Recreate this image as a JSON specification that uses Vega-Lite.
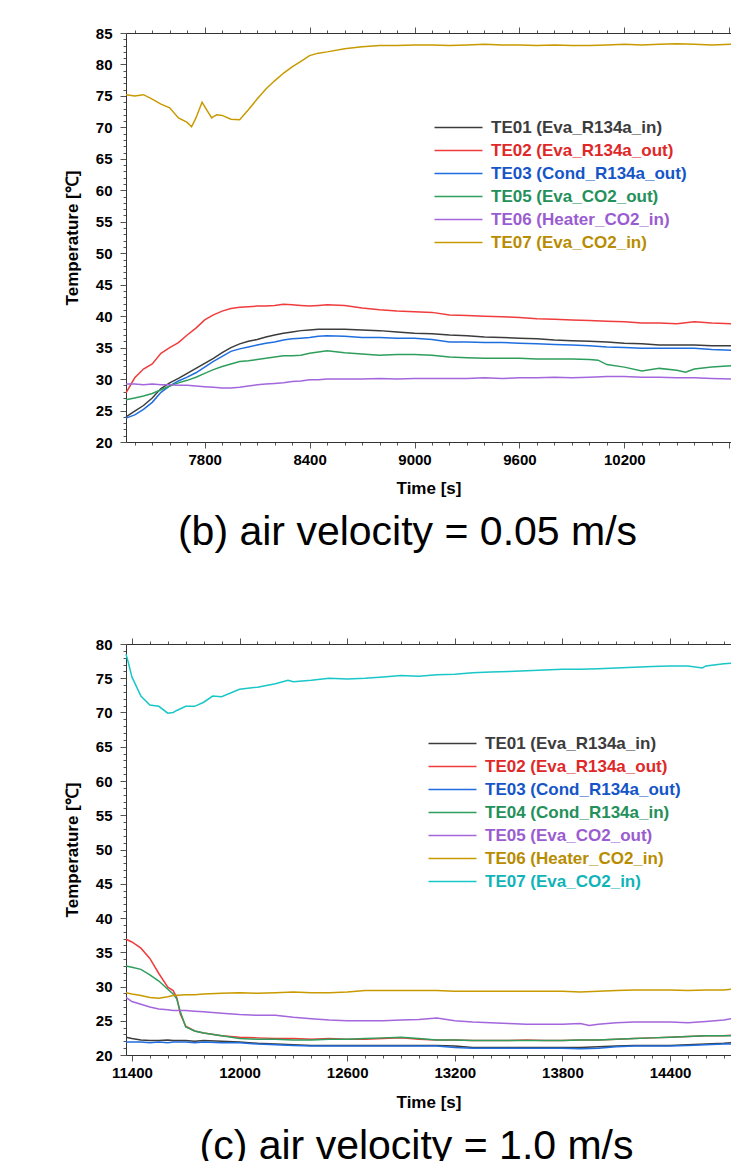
{
  "$schema": "https://vega.github.io/schema/vega-lite/v6.json",
  "background": "white",
  "padding": {"left": 63, "top": 26, "right": 0, "bottom": 0},
  "spacing": 84,
  "config": {
    "view": {"stroke": null},
    "axis": {"labelFont": "Liberation Sans", "labelFontWeight": "bold", "labelFontSize": 15, "labelColor": "#000", "titleFont": "Liberation Sans", "titleFontWeight": "bold", "titleFontSize": 17, "titleColor": "#000", "domainColor": "#333", "tickColor": "#555", "grid": false, "labelOverlap": false, "labelFlush": false, "labelBound": false},
    "legend": {"title": null, "orient": "none", "padding": 0, "symbolType": "M-6,0H6", "symbolSize": 64, "symbolStrokeWidth": 1.5, "labelOffset": 24, "labelFontSize": 17, "labelFont": "Liberation Sans", "labelFontWeight": "bold", "rowPadding": 5, "labelLimit": 400},
    "title": {"font": "Liberation Sans", "fontSize": 41, "fontWeight": "normal", "color": "#000"}
  },
  "resolve": {"scale": {"color": "independent", "x": "independent", "y": "independent"}, "legend": {"color": "independent"}},
  "vconcat": [
    {
      "width": 605, "height": 409,
      "title": {"text": "(b) air velocity = 0.05 m/s", "orient": "bottom", "offset": 17, "dx": -21},
      "data": {"values": [
        {"t":7350,"TE01":24.0,"TE02":27.8,"TE03":23.8,"TE05":26.7,"TE06":29.2,"TE07":75.2},
        {"t":7400,"TE01":24.9,"TE02":30.2,"TE03":24.3,"TE05":27.0,"TE06":29.2,"TE07":75.0},
        {"t":7450,"TE01":25.8,"TE02":31.6,"TE03":25.2,"TE05":27.3,"TE06":29.1,"TE07":75.2},
        {"t":7500,"TE01":27.0,"TE02":32.4,"TE03":26.3,"TE05":27.7,"TE06":29.2,"TE07":74.5},
        {"t":7550,"TE01":28.5,"TE02":34.1,"TE03":27.9,"TE05":28.3,"TE06":29.1,"TE07":73.7},
        {"t":7600,"TE01":29.4,"TE02":35.0,"TE03":28.9,"TE05":28.9,"TE06":29.1,"TE07":73.1},
        {"t":7650,"TE01":30.1,"TE02":35.8,"TE03":29.7,"TE05":29.4,"TE06":29.0,"TE07":71.5},
        {"t":7700,"TE01":30.9,"TE02":37.0,"TE03":30.3,"TE05":29.8,"TE06":29.0,"TE07":70.8},
        {"t":7725,"TE07":70.1},
        {"t":7750,"TE01":31.7,"TE02":38.1,"TE03":31.0,"TE05":30.3,"TE06":28.9,"TE07":71.5},
        {"t":7785,"TE07":74.0},
        {"t":7800,"TE01":32.5,"TE02":39.4,"TE03":31.9,"TE05":30.9,"TE06":28.8,"TE07":73.3},
        {"t":7840,"TE07":71.5},
        {"t":7850,"TE01":33.3,"TE02":40.2,"TE03":32.8,"TE05":31.5,"TE06":28.7,"TE07":71.7},
        {"t":7870,"TE07":72.0},
        {"t":7900,"TE01":34.2,"TE02":40.8,"TE03":33.6,"TE05":32.0,"TE06":28.6,"TE07":71.9},
        {"t":7950,"TE01":35.0,"TE02":41.2,"TE03":34.4,"TE05":32.4,"TE06":28.6,"TE07":71.3},
        {"t":8000,"TE01":35.6,"TE02":41.4,"TE03":34.8,"TE05":32.8,"TE06":28.7,"TE07":71.2},
        {"t":8050,"TE01":36.0,"TE02":41.5,"TE03":35.1,"TE05":32.9,"TE06":28.9,"TE07":72.8},
        {"t":8100,"TE01":36.3,"TE02":41.6,"TE03":35.4,"TE05":33.1,"TE06":29.1,"TE07":74.5},
        {"t":8150,"TE01":36.7,"TE02":41.6,"TE03":35.7,"TE05":33.3,"TE06":29.2,"TE07":76.1},
        {"t":8200,"TE01":37.0,"TE02":41.7,"TE03":35.9,"TE05":33.5,"TE06":29.3,"TE07":77.4},
        {"t":8250,"TE01":37.3,"TE02":41.9,"TE03":36.2,"TE05":33.7,"TE06":29.4,"TE07":78.6},
        {"t":8300,"TE01":37.5,"TE02":41.8,"TE03":36.4,"TE05":33.7,"TE06":29.6,"TE07":79.6},
        {"t":8350,"TE01":37.7,"TE02":41.7,"TE03":36.5,"TE05":33.8,"TE06":29.7,"TE07":80.5},
        {"t":8400,"TE01":37.8,"TE02":41.6,"TE03":36.6,"TE05":34.1,"TE06":29.9,"TE07":81.4},
        {"t":8450,"TE01":37.9,"TE02":41.7,"TE03":36.8,"TE05":34.3,"TE06":29.9,"TE07":81.8},
        {"t":8500,"TE01":37.9,"TE02":41.8,"TE03":36.9,"TE05":34.5,"TE06":30.0,"TE07":82.0},
        {"t":8600,"TE01":37.9,"TE02":41.7,"TE03":36.8,"TE05":34.2,"TE06":30.0,"TE07":82.5},
        {"t":8700,"TE01":37.8,"TE02":41.3,"TE03":36.6,"TE05":34.0,"TE06":30.0,"TE07":82.8},
        {"t":8800,"TE01":37.7,"TE02":41.0,"TE03":36.6,"TE05":33.8,"TE06":30.1,"TE07":83.0},
        {"t":8900,"TE01":37.5,"TE02":40.8,"TE03":36.5,"TE05":33.9,"TE06":30.0,"TE07":83.0},
        {"t":9000,"TE01":37.3,"TE02":40.7,"TE03":36.5,"TE05":33.9,"TE06":30.1,"TE07":83.1},
        {"t":9100,"TE01":37.2,"TE02":40.6,"TE03":36.3,"TE05":33.8,"TE06":30.1,"TE07":83.1},
        {"t":9200,"TE01":37.0,"TE02":40.2,"TE03":35.9,"TE05":33.5,"TE06":30.1,"TE07":83.0},
        {"t":9300,"TE01":36.9,"TE02":40.1,"TE03":35.9,"TE05":33.4,"TE06":30.1,"TE07":83.1},
        {"t":9400,"TE01":36.7,"TE02":40.0,"TE03":35.8,"TE05":33.3,"TE06":30.2,"TE07":83.2},
        {"t":9500,"TE01":36.6,"TE02":39.9,"TE03":35.8,"TE05":33.3,"TE06":30.1,"TE07":83.1},
        {"t":9600,"TE01":36.5,"TE02":39.8,"TE03":35.7,"TE05":33.3,"TE06":30.2,"TE07":83.1},
        {"t":9700,"TE01":36.4,"TE02":39.6,"TE03":35.6,"TE05":33.2,"TE06":30.2,"TE07":83.0},
        {"t":9800,"TE01":36.2,"TE02":39.5,"TE03":35.5,"TE05":33.2,"TE06":30.3,"TE07":83.1},
        {"t":9900,"TE01":36.1,"TE02":39.4,"TE03":35.4,"TE05":33.2,"TE06":30.2,"TE07":83.0},
        {"t":10000,"TE01":36.0,"TE02":39.3,"TE03":35.3,"TE05":33.1,"TE06":30.3,"TE07":83.0},
        {"t":10050,"TE05":33.0},
        {"t":10100,"TE01":35.9,"TE02":39.2,"TE03":35.1,"TE05":32.3,"TE06":30.4,"TE07":83.1},
        {"t":10200,"TE01":35.7,"TE02":39.1,"TE03":35.0,"TE05":31.9,"TE06":30.4,"TE07":83.2},
        {"t":10300,"TE01":35.6,"TE02":38.9,"TE03":34.9,"TE05":31.3,"TE06":30.3,"TE07":83.1},
        {"t":10400,"TE01":35.4,"TE02":38.9,"TE03":34.9,"TE05":31.7,"TE06":30.3,"TE07":83.2},
        {"t":10500,"TE01":35.4,"TE02":38.8,"TE03":34.9,"TE05":31.4,"TE06":30.2,"TE07":83.3},
        {"t":10550,"TE05":31.1},
        {"t":10600,"TE01":35.4,"TE02":39.1,"TE03":34.9,"TE05":31.6,"TE06":30.2,"TE07":83.2},
        {"t":10700,"TE01":35.3,"TE02":38.9,"TE03":34.7,"TE05":31.9,"TE06":30.1,"TE07":83.1},
        {"t":10810,"TE01":35.3,"TE02":38.8,"TE03":34.6,"TE05":32.1,"TE06":30.0,"TE07":83.2}
      ]},
      "transform": [
        {"fold": ["TE01","TE02","TE03","TE05","TE06","TE07"], "as": ["s","v"]},
        {"filter": {"field": "v", "valid": true}}
      ],
      "layer": [
        {
          "mark": {"type": "line", "strokeWidth": 1.5},
          "encoding": {
            "x": {"field": "t", "type": "quantitative", "scale": {"domain": [7350, 10810], "nice": false, "zero": false},
              "axis": {"orient": "bottom", "title": "Time [s]", "format": "d", "values": [7400,7500,7600,7700,7800,7900,8000,8100,8200,8300,8400,8500,8600,8700,8800,8900,9000,9100,9200,9300,9400,9500,9600,9700,9800,9900,10000,10100,10200,10300,10400,10500,10600,10700,10800],
                "labelExpr": "datum.value % 600 === 0 && datum.value < 10700 ? datum.label : ''",
                "tickSize": {"condition": {"test": "datum.value % 600 === 0", "value": 6}, "value": 3},
                "labelPadding": 4, "titlePadding": 13}},
            "y": {"field": "v", "type": "quantitative", "scale": {"domain": [20, 85], "nice": false, "zero": false},
              "axis": {"orient": "left", "title": "Temperature [℃]", "format": "d", "values": [20,21,22,23,24,25,26,27,28,29,30,31,32,33,34,35,36,37,38,39,40,41,42,43,44,45,46,47,48,49,50,51,52,53,54,55,56,57,58,59,60,61,62,63,64,65,66,67,68,69,70,71,72,73,74,75,76,77,78,79,80,81,82,83,84,85],
                "labelExpr": "datum.value % 5 === 0 ? datum.label : ''",
                "tickSize": {"condition": {"test": "datum.value % 5 === 0", "value": 6}, "value": 3},
                "labelPadding": 8, "titlePadding": 14}},
            "color": {"field": "s", "type": "nominal",
              "scale": {"domain": ["TE01","TE02","TE03","TE05","TE06","TE07"], "range": ["#3c3c3c","#f03c3c","#1f6ee0","#2e9e5c","#a366dc","#c89a00"]},
              "legend": {"legendX": 324, "legendY": 86,
                "labelExpr": "datum.value == 'TE01' ? 'TE01 (Eva_R134a_in)' : datum.value == 'TE02' ? 'TE02 (Eva_R134a_out)' : datum.value == 'TE03' ? 'TE03 (Cond_R134a_out)' : datum.value == 'TE05' ? 'TE05 (Eva_CO2_out)' : datum.value == 'TE06' ? 'TE06 (Heater_CO2_in)' : 'TE07 (Eva_CO2_in)'",
                "labelColor": {"expr": "datum.value == 'TE01' ? '#3c3c3c' : datum.value == 'TE02' ? '#e02828' : datum.value == 'TE03' ? '#1555c8' : datum.value == 'TE05' ? '#24905a' : datum.value == 'TE06' ? '#9a5cd0' : '#b88c00'"}}}
          }
        },
        {
          "mark": {"type": "line", "opacity": 0},
          "encoding": {
            "x": {"field": "t", "type": "quantitative",
              "axis": {"orient": "top", "title": null, "labels": false, "values": [7400,7500,7600,7700,7800,7900,8000,8100,8200,8300,8400,8500,8600,8700,8800,8900,9000,9100,9200,9300,9400,9500,9600,9700,9800,9900,10000,10100,10200,10300,10400,10500,10600,10700,10800],
                "tickSize": {"condition": {"test": "datum.value % 600 === 0", "value": 6}, "value": 3}}},
            "detail": {"field": "s"}
          }
        }
      ],
      "resolve": {"axis": {"x": "independent"}}
    },
    {
      "width": 605, "height": 411,
      "title": {"text": "(c) air velocity = 1.0 m/s", "orient": "bottom", "offset": 17, "dx": -12},
      "data": {"values": [
        {"t":11367,"TE01":22.6,"TE02":36.9,"TE03":21.9,"TE04":33.0,"TE05":28.4,"TE06":29.1,"TE07":78.5},
        {"t":11380,"TE07":77.3},
        {"t":11400,"TE01":22.4,"TE02":36.5,"TE03":21.9,"TE04":32.8,"TE05":27.8,"TE06":28.9,"TE07":75.2},
        {"t":11450,"TE01":22.2,"TE02":35.6,"TE03":21.9,"TE04":32.5,"TE05":27.4,"TE06":28.7,"TE07":72.4},
        {"t":11500,"TE01":22.1,"TE02":34.1,"TE03":21.8,"TE04":31.7,"TE05":27.0,"TE06":28.4,"TE07":71.1},
        {"t":11550,"TE01":22.1,"TE02":31.9,"TE03":21.9,"TE04":30.8,"TE05":26.7,"TE06":28.3,"TE07":70.9},
        {"t":11600,"TE01":22.2,"TE02":29.9,"TE03":21.8,"TE04":29.6,"TE05":26.6,"TE06":28.5,"TE07":69.9},
        {"t":11630,"TE01":22.1,"TE02":29.4,"TE03":21.9,"TE04":28.9,"TE05":26.5,"TE06":28.7,"TE07":70.0},
        {"t":11650,"TE02":28.4,"TE04":28.2,"TE07":70.3},
        {"t":11670,"TE02":26.0,"TE04":26.3},
        {"t":11700,"TE01":22.1,"TE02":24.2,"TE03":21.9,"TE04":24.1,"TE05":26.5,"TE06":28.8,"TE07":70.9},
        {"t":11750,"TE01":22.0,"TE02":23.5,"TE03":21.8,"TE04":23.5,"TE05":26.4,"TE06":28.8,"TE07":70.9},
        {"t":11800,"TE01":22.1,"TE02":23.2,"TE03":21.9,"TE04":23.2,"TE05":26.3,"TE06":28.9,"TE07":71.5},
        {"t":11850,"TE07":72.4},
        {"t":11900,"TE01":22.0,"TE02":22.8,"TE03":21.8,"TE04":22.8,"TE05":26.1,"TE06":29.0,"TE07":72.3},
        {"t":12000,"TE01":21.9,"TE02":22.6,"TE03":21.8,"TE04":22.4,"TE05":25.9,"TE06":29.1,"TE07":73.4},
        {"t":12100,"TE01":21.7,"TE02":22.5,"TE03":21.6,"TE04":22.3,"TE05":25.8,"TE06":29.0,"TE07":73.7},
        {"t":12200,"TE01":21.6,"TE02":22.4,"TE03":21.5,"TE04":22.3,"TE05":25.8,"TE06":29.1,"TE07":74.2},
        {"t":12270,"TE07":74.7},
        {"t":12300,"TE01":21.5,"TE02":22.4,"TE03":21.4,"TE04":22.2,"TE05":25.5,"TE06":29.2,"TE07":74.5},
        {"t":12400,"TE01":21.4,"TE02":22.3,"TE03":21.3,"TE04":22.2,"TE05":25.3,"TE06":29.1,"TE07":74.7},
        {"t":12500,"TE01":21.4,"TE02":22.4,"TE03":21.3,"TE04":22.3,"TE05":25.1,"TE06":29.1,"TE07":75.0},
        {"t":12600,"TE01":21.4,"TE02":22.3,"TE03":21.3,"TE04":22.3,"TE05":25.0,"TE06":29.2,"TE07":74.9},
        {"t":12700,"TE01":21.4,"TE02":22.3,"TE03":21.3,"TE04":22.4,"TE05":25.0,"TE06":29.4,"TE07":75.0},
        {"t":12800,"TE01":21.4,"TE02":22.4,"TE03":21.3,"TE04":22.5,"TE05":25.0,"TE06":29.4,"TE07":75.2},
        {"t":12900,"TE01":21.4,"TE02":22.5,"TE03":21.3,"TE04":22.6,"TE05":25.1,"TE06":29.4,"TE07":75.4},
        {"t":13000,"TE01":21.4,"TE02":22.3,"TE03":21.3,"TE04":22.4,"TE05":25.2,"TE06":29.4,"TE07":75.3},
        {"t":13100,"TE01":21.4,"TE02":22.2,"TE03":21.3,"TE04":22.2,"TE05":25.4,"TE06":29.4,"TE07":75.5},
        {"t":13200,"TE01":21.3,"TE02":22.2,"TE03":21.1,"TE04":22.2,"TE05":25.0,"TE06":29.3,"TE07":75.6},
        {"t":13300,"TE01":21.1,"TE02":22.1,"TE03":21.0,"TE04":22.1,"TE05":24.8,"TE06":29.3,"TE07":75.8},
        {"t":13400,"TE01":21.1,"TE02":22.1,"TE03":21.0,"TE04":22.1,"TE05":24.7,"TE06":29.3,"TE07":75.9},
        {"t":13500,"TE01":21.1,"TE02":22.1,"TE03":21.0,"TE04":22.1,"TE05":24.6,"TE06":29.3,"TE07":76.0},
        {"t":13600,"TE01":21.1,"TE02":22.2,"TE03":21.0,"TE04":22.1,"TE05":24.5,"TE06":29.3,"TE07":76.1},
        {"t":13700,"TE01":21.1,"TE02":22.1,"TE03":21.0,"TE04":22.1,"TE05":24.5,"TE06":29.3,"TE07":76.2},
        {"t":13800,"TE01":21.1,"TE02":22.1,"TE03":21.0,"TE04":22.1,"TE05":24.5,"TE06":29.3,"TE07":76.3},
        {"t":13900,"TE01":21.1,"TE02":22.2,"TE03":20.9,"TE04":22.2,"TE05":24.6,"TE06":29.2,"TE07":76.3},
        {"t":13950,"TE05":24.3},
        {"t":14000,"TE01":21.2,"TE02":22.2,"TE03":21.0,"TE04":22.2,"TE05":24.5,"TE06":29.3,"TE07":76.4},
        {"t":14100,"TE01":21.3,"TE02":22.3,"TE03":21.2,"TE04":22.3,"TE05":24.7,"TE06":29.4,"TE07":76.5},
        {"t":14200,"TE01":21.4,"TE02":22.4,"TE03":21.3,"TE04":22.4,"TE05":24.8,"TE06":29.5,"TE07":76.6},
        {"t":14300,"TE01":21.4,"TE02":22.5,"TE03":21.3,"TE04":22.5,"TE05":24.8,"TE06":29.5,"TE07":76.7},
        {"t":14400,"TE01":21.4,"TE02":22.6,"TE03":21.3,"TE04":22.6,"TE05":24.8,"TE06":29.5,"TE07":76.8},
        {"t":14500,"TE01":21.5,"TE02":22.7,"TE03":21.4,"TE04":22.7,"TE05":24.7,"TE06":29.4,"TE07":76.8},
        {"t":14580,"TE07":76.5},
        {"t":14600,"TE01":21.6,"TE02":22.8,"TE03":21.5,"TE04":22.8,"TE05":24.9,"TE06":29.5,"TE07":76.8},
        {"t":14700,"TE01":21.7,"TE02":22.8,"TE03":21.6,"TE04":22.8,"TE05":25.1,"TE06":29.5,"TE07":77.1},
        {"t":14740,"TE01":21.8,"TE02":22.9,"TE03":21.6,"TE04":22.8,"TE05":25.3,"TE06":29.6,"TE07":77.2}
      ]},
      "transform": [
        {"fold": ["TE01","TE02","TE03","TE04","TE05","TE06","TE07"], "as": ["s","v"]},
        {"filter": {"field": "v", "valid": true}}
      ],
      "layer": [
        {
          "mark": {"type": "line", "strokeWidth": 1.5},
          "encoding": {
            "x": {"field": "t", "type": "quantitative", "scale": {"domain": [11367, 14740], "nice": false, "zero": false},
              "axis": {"orient": "bottom", "title": "Time [s]", "format": "d", "values": [11400,11500,11600,11700,11800,11900,12000,12100,12200,12300,12400,12500,12600,12700,12800,12900,13000,13100,13200,13300,13400,13500,13600,13700,13800,13900,14000,14100,14200,14300,14400,14500,14600,14700],
                "labelExpr": "datum.value % 600 === 0 ? datum.label : ''",
                "tickSize": {"condition": {"test": "datum.value % 600 === 0", "value": 6}, "value": 3},
                "labelPadding": 4, "titlePadding": 14}},
            "y": {"field": "v", "type": "quantitative", "scale": {"domain": [20, 80], "nice": false, "zero": false},
              "axis": {"orient": "left", "title": "Temperature [℃]", "format": "d", "values": [20,21,22,23,24,25,26,27,28,29,30,31,32,33,34,35,36,37,38,39,40,41,42,43,44,45,46,47,48,49,50,51,52,53,54,55,56,57,58,59,60,61,62,63,64,65,66,67,68,69,70,71,72,73,74,75,76,77,78,79,80],
                "labelExpr": "datum.value % 5 === 0 ? datum.label : ''",
                "tickSize": {"condition": {"test": "datum.value % 5 === 0", "value": 6}, "value": 3},
                "labelPadding": 8, "titlePadding": 14}},
            "color": {"field": "s", "type": "nominal",
              "scale": {"domain": ["TE01","TE02","TE03","TE04","TE05","TE06","TE07"], "range": ["#3c3c3c","#f03c3c","#1f6ee0","#2e9e5c","#a366dc","#c89a00","#19c6c8"]},
              "legend": {"legendX": 318, "legendY": 91,
                "labelExpr": "datum.value == 'TE01' ? 'TE01 (Eva_R134a_in)' : datum.value == 'TE02' ? 'TE02 (Eva_R134a_out)' : datum.value == 'TE03' ? 'TE03 (Cond_R134a_out)' : datum.value == 'TE04' ? 'TE04 (Cond_R134a_in)' : datum.value == 'TE05' ? 'TE05 (Eva_CO2_out)' : datum.value == 'TE06' ? 'TE06 (Heater_CO2_in)' : 'TE07 (Eva_CO2_in)'",
                "labelColor": {"expr": "datum.value == 'TE01' ? '#3c3c3c' : datum.value == 'TE02' ? '#e02828' : datum.value == 'TE03' ? '#1555c8' : datum.value == 'TE04' ? '#24905a' : datum.value == 'TE05' ? '#9a5cd0' : datum.value == 'TE06' ? '#b88c00' : '#10b4b8'"}}}
          }
        },
        {
          "mark": {"type": "line", "opacity": 0},
          "encoding": {
            "x": {"field": "t", "type": "quantitative",
              "axis": {"orient": "top", "title": null, "labels": false, "values": [11400,11500,11600,11700,11800,11900,12000,12100,12200,12300,12400,12500,12600,12700,12800,12900,13000,13100,13200,13300,13400,13500,13600,13700,13800,13900,14000,14100,14200,14300,14400,14500,14600,14700],
                "tickSize": {"condition": {"test": "datum.value % 600 === 0", "value": 6}, "value": 3}}},
            "detail": {"field": "s"}
          }
        }
      ],
      "resolve": {"axis": {"x": "independent"}}
    }
  ]
}
